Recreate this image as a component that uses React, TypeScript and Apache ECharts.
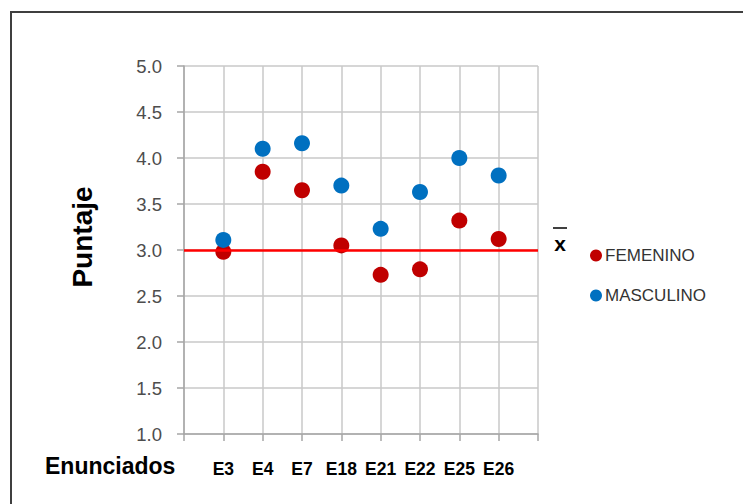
import React, { useEffect, useRef } from "react";
import * as echarts from "echarts";

// Enunciados evaluados, en el orden del eje horizontal
const enunciados = ["E3", "E4", "E7", "E18", "E21", "E22", "E25", "E26"];
// Puntaje promedio por sexo
const femenino = [2.98, 3.85, 3.65, 3.05, 2.73, 2.79, 3.32, 3.12];
const masculino = [3.11, 4.1, 4.16, 3.7, 3.23, 3.63, 4.0, 3.81];
// Media general (línea x̄)
const media = 3.0;

const FONT = "'Liberation Sans', Arial, sans-serif";

export default function App() {
  const ref = useRef<HTMLDivElement>(null);

  useEffect(() => {
    if (!ref.current) return;
    const chart = echarts.init(ref.current, undefined, { renderer: "svg" });

    const toPoints = (vals: number[]) => vals.map((v, i) => [i + 1, v]);

    chart.setOption({
      animation: false,
      backgroundColor: "#ffffff",
      grid: { left: 184, right: 205, top: 66, bottom: 70, containLabel: false },
      legend: {
        orient: "vertical",
        left: 585,
        top: 242,
        itemGap: 23,
        itemWidth: 12,
        itemHeight: 12,
        icon: "circle",
        textStyle: { fontFamily: FONT, fontSize: 17, color: "#333333", padding: [0, 0, 0, -2] },
        data: ["FEMENINO", "MASCULINO"],
      },
      xAxis: {
        type: "value",
        min: 0,
        max: 9,
        interval: 1,
        axisLine: { show: true, lineStyle: { color: "#a6a6a6", width: 1.5 } },
        axisTick: { show: true, length: 7, lineStyle: { color: "#a6a6a6", width: 1.5 } },
        splitLine: { show: true, lineStyle: { color: "#c8c8c8", width: 1.5 } },
        axisLabel: {
          margin: 26,
          fontFamily: FONT,
          fontWeight: "bold",
          fontSize: 17.5,
          color: "#000000",
          formatter: (v: number) => enunciados[v - 1] ?? "",
        },
      },
      yAxis: {
        type: "value",
        min: 1,
        max: 5,
        interval: 0.5,
        axisLine: { show: true, lineStyle: { color: "#a6a6a6", width: 1.5 } },
        axisTick: { show: true, length: 7, lineStyle: { color: "#a6a6a6", width: 1.5 } },
        splitLine: { show: true, lineStyle: { color: "#c8c8c8", width: 1.5 } },
        axisLabel: {
          margin: 22,
          fontFamily: FONT,
          fontSize: 18.5,
          color: "#4d4d4d",
          formatter: (v: number) => v.toFixed(1),
        },
      },
      series: [
        {
          name: "media",
          type: "line",
          data: [],
          z: 1,
          markLine: {
            silent: true,
            symbol: "none",
            label: { show: false },
            lineStyle: { color: "#ff0000", width: 2.5, type: "solid" },
            data: [{ yAxis: media }],
          },
        },
        {
          name: "FEMENINO",
          type: "scatter",
          symbolSize: 16,
          itemStyle: { color: "#c00000", opacity: 1 },
          data: toPoints(femenino),
          z: 3,
        },
        {
          name: "MASCULINO",
          type: "scatter",
          symbolSize: 16,
          itemStyle: { color: "#0070c0", opacity: 1 },
          data: toPoints(masculino),
          z: 4,
        },
      ],
      graphic: [
        {
          type: "rect",
          shape: { x: 11, y: 12, width: 900, height: 700 },
          style: { fill: "none", stroke: "#3f3f3f", lineWidth: 2 },
          silent: true,
        },
        {
          type: "text",
          x: 82,
          y: 237,
          rotation: Math.PI / 2,
          style: {
            text: "Puntaje",
            fontFamily: FONT,
            fontWeight: "bold",
            fontSize: 28,
            fill: "#000000",
            align: "center",
            verticalAlign: "middle",
          },
        },
        {
          type: "text",
          x: 45,
          y: 466,
          style: {
            text: "Enunciados",
            fontFamily: FONT,
            fontWeight: "bold",
            fontSize: 23,
            fill: "#000000",
            align: "left",
            verticalAlign: "middle",
          },
        },
        {
          type: "text",
          x: 560,
          y: 243,
          style: {
            text: "x",
            fontFamily: FONT,
            fontWeight: "bold",
            fontSize: 21,
            fill: "#000000",
            align: "center",
            verticalAlign: "middle",
          },
        },
        {
          type: "line",
          shape: { x1: 553, y1: 228, x2: 567, y2: 228 },
          style: { stroke: "#000000", lineWidth: 1.5 },
        },
      ],
    });

    return () => chart.dispose();
  }, []);

  return <div ref={ref} style={{ width: 743, height: 504, position: "absolute", left: 0, top: 0 }} />;
}
